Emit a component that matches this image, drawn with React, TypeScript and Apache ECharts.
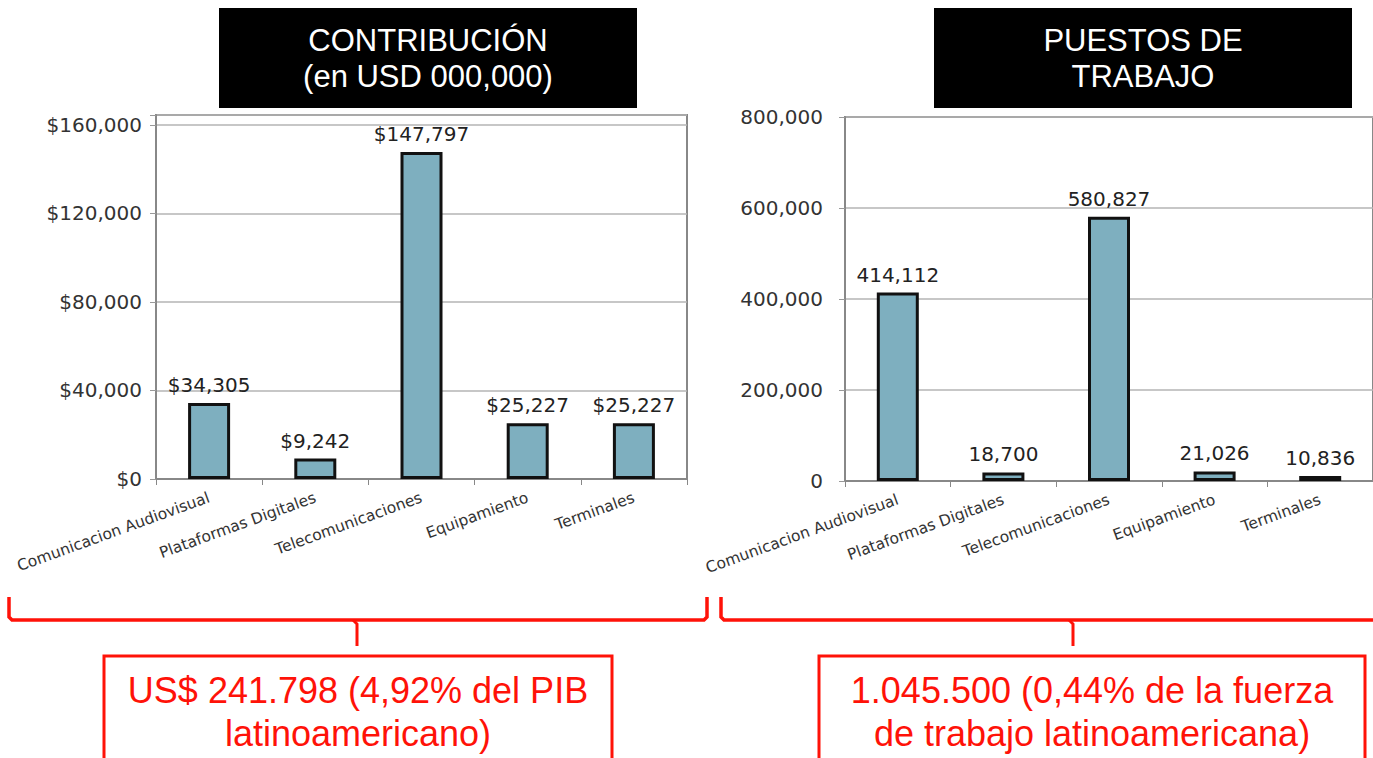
import React, { useEffect, useRef } from "react";
import * as echarts from "echarts";

const categories = [
  "Comunicacion Audiovisual",
  "Plataformas Digitales",
  "Telecomunicaciones",
  "Equipamiento",
  "Terminales",
];
const contribucion = [34305, 9242, 147797, 25227, 25227];
const puestos = [414112, 18700, 580827, 21026, 10836];
const leftTitle = ["CONTRIBUCIÓN", "(en USD 000,000)"];
const rightTitle = ["PUESTOS DE", "TRABAJO"];
const leftNote = ["US$ 241.798 (4,92% del PIB", "latinoamericano)"];
const rightNote = ["1.045.500 (0,44% de la fuerza", "de trabajo latinoamericana)"];

const fmt = (v: number) => v.toLocaleString("en-US");
const RED = "#ff1208";
const BAR = "#7eafbf";
const FONT = "DejaVu Sans";

export default function App() {
  const ref = useRef<HTMLDivElement>(null);
  useEffect(() => {
    if (!ref.current) return;
    const chart = echarts.init(ref.current, undefined, { renderer: "svg" });
    const yLabel = (prefix: string, step: number) => ({
      fontFamily: FONT,
      fontSize: 20,
      color: "#333",
      formatter: (v: number) => (v % step === 0 ? prefix + fmt(v) : ""),
    });
    const xAxisCommon = {
      type: "category" as const,
      data: categories,
      axisLine: { lineStyle: { color: "#888", width: 2 } },
      axisTick: { show: true, length: 6, lineStyle: { color: "#888" } },
      axisLabel: {
        rotate: 20,
        fontFamily: FONT,
        fontSize: 15.5,
        color: "#333",
        margin: 18,
        interval: 0,
      },
    };
    const yAxisCommon = {
      type: "value" as const,
      min: 0,
      axisLine: { show: true, lineStyle: { color: "#888", width: 2 } },
      axisTick: { show: true, length: 6, lineStyle: { color: "#999" } },
      splitLine: { show: true, lineStyle: { color: "#b5b5b5", width: 1.5 } },
    };
    const barCommon = {
      type: "bar" as const,
      barWidth: 42,
      itemStyle: { color: BAR, borderColor: "#111", borderWidth: 3 },
      label: {
        show: true,
        position: "top" as const,
        distance: 8,
        fontFamily: FONT,
        fontSize: 20,
        color: "#222",
      },
    };
    const titleBox = (x: number, lines: string[]) => ({
      type: "group",
      children: [
        { type: "rect", shape: { x, y: 8, width: 418, height: 100 }, style: { fill: "#000" } },
        ...lines.map((t, i) => ({
          type: "text",
          x: x + 209,
          y: 40 + i * 36,
          style: {
            text: t,
            fill: "#fff",
            font: "31px 'Liberation Sans'",
            textAlign: "center",
            textVerticalAlign: "middle",
          },
        })),
      ],
    });
    const noteBox = (x: number, w: number, lines: string[]) => ({
      type: "group",
      children: [
        {
          type: "rect",
          shape: { x, y: 656, width: w, height: 120 },
          style: { fill: "none", stroke: RED, lineWidth: 3 },
        },
        ...lines.map((t, i) => ({
          type: "text",
          x: x + w / 2,
          y: 690 + i * 43,
          style: {
            text: t,
            fill: RED,
            font: "36px 'Liberation Sans'",
            textAlign: "center",
            textVerticalAlign: "middle",
          },
        })),
      ],
    });
    const bracket = (x1: number, x2: number, cx: number) => ({
      type: "group",
      children: [
        {
          type: "polyline",
          shape: { points: [[x1, 597], [x1, 617], [x1 + 3, 620], [x2 - 3, 620], [x2, 617], [x2, 597]] },
          style: { fill: "none", stroke: RED, lineWidth: 3.5 },
        },
        {
          type: "polyline",
          shape: { points: [[cx - 4, 620], [cx, 624], [cx, 646]] },
          style: { fill: "none", stroke: RED, lineWidth: 3 },
        },
      ],
    });
    chart.setOption({
      animation: false,
      backgroundColor: "#fff",
      grid: [
        { left: 156, top: 115, width: 531, height: 364, show: true, borderColor: "#888", borderWidth: 2 },
        { left: 845, top: 117, width: 555, height: 364, show: true, borderColor: "#888", borderWidth: 2 },
      ],
      xAxis: [
        { ...xAxisCommon, gridIndex: 0 },
        { ...xAxisCommon, gridIndex: 1 },
      ],
      yAxis: [
        { ...yAxisCommon, gridIndex: 0, max: 164500, interval: 40000, axisLabel: { ...yLabel("$", 40000), margin: 14 } },
        { ...yAxisCommon, gridIndex: 1, max: 800000, interval: 200000, axisLabel: { ...yLabel("", 200000), margin: 22 } },
      ],
      series: [
        {
          ...barCommon,
          xAxisIndex: 0,
          yAxisIndex: 0,
          data: contribucion,
          label: { ...barCommon.label, formatter: (p: any) => "$" + fmt(p.value) },
        },
        {
          ...barCommon,
          xAxisIndex: 1,
          yAxisIndex: 1,
          data: puestos,
          label: { ...barCommon.label, formatter: (p: any) => fmt(p.value) },
        },
      ],
      graphic: [
        titleBox(219, leftTitle),
        titleBox(934, rightTitle),
        bracket(9, 707, 357),
        bracket(721, 1420, 1073),
        noteBox(104, 508, leftNote),
        noteBox(819, 546, rightNote),
      ],
    });
    return () => chart.dispose();
  }, []);
  return (
    <div
      ref={ref}
      style={{ position: "absolute", left: 0, top: 0, width: 1373, height: 758, overflow: "hidden" }}
    />
  );
}
